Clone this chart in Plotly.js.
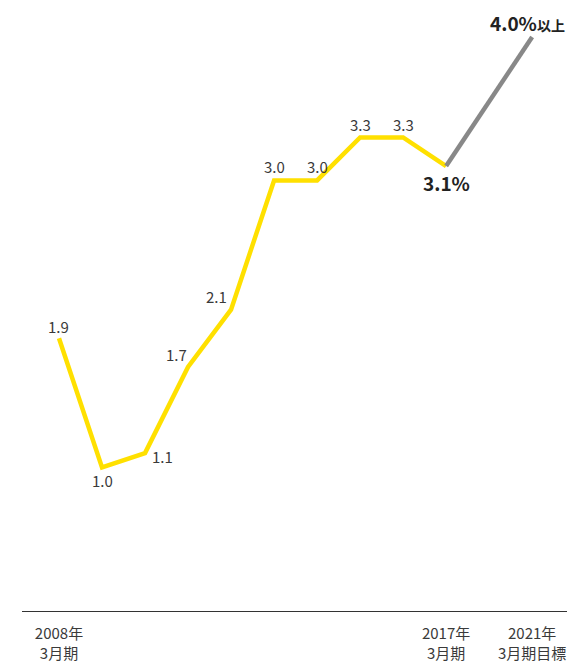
<!DOCTYPE html>
<html><head><meta charset="utf-8">
<script src="https://cdn.plot.ly/plotly-3.0.1.min.js"></script>
<style>body{margin:0;padding:0;background:#fff}#c{width:572px;height:662px}</style>
</head><body><div id="c"></div>
<script>
// Data
var actualX = [0,1,2,3,4,5,6,7,8,9]; // 2008..2017 (March FY)
var actualY = [1.9,1.0,1.1,1.7,2.1,3.0,3.0,3.3,3.3,3.1];
var targetX = [9,11];               // 2017 -> 2021 target
var targetY = [3.1,4.0];
var tickVals = [0,9,11];
var tickText = ["2008年<br>3月期","2017年<br>3月期","2021年<br>3月期目標"];
var labelText = ["1.9","1.0","1.1","1.7","2.1","3.0","3.0","3.3","3.3"];
var labelDX = [0,0,17,-12,-15,0,0,0,0];
var labelDY = [12,-13,-3,13,13,14,14,13,13];

var FONT = '"Noto Sans CJK JP", "Noto Sans", sans-serif';
var ann = [];
for (var i=0;i<labelText.length;i++){
  ann.push({x:actualX[i],y:actualY[i],xref:'x',yref:'y',text:labelText[i],showarrow:false,
    xshift:labelDX[i],yshift:labelDY[i],font:{family:FONT,size:15,color:'#3a3a3a'}});
}
ann.push({x:actualX[9],y:actualY[9],xref:'x',yref:'y',text:'<b>'+actualY[9].toFixed(1)+'%</b>',showarrow:false,
  xshift:0,yshift:-16,font:{family:FONT,size:19,color:'#222'}});
ann.push({x:targetX[1],y:targetY[1],xref:'x',yref:'y',text:'<b>'+targetY[1].toFixed(1)+'%<span style="font-size:14px">以上</span></b>',showarrow:false,
  xshift:-5,yshift:14,font:{family:FONT,size:19,color:'#222'}});

var data = [
  {x:actualX,y:actualY,type:'scatter',mode:'lines',line:{color:'#FFE000',width:4.5},hoverinfo:'none'},
  {x:targetX,y:targetY,type:'scatter',mode:'lines',line:{color:'#888888',width:4.5},hoverinfo:'none'}
];
var layout = {
  width:572,height:662,showlegend:false,
  margin:{l:22,r:5,t:20,b:51},
  paper_bgcolor:'#fff',plot_bgcolor:'#fff',
  xaxis:{range:[-0.86,11.81],showgrid:false,zeroline:false,showline:true,linecolor:'#333',linewidth:1,
    tickvals:tickVals,ticktext:tickText,ticks:'',ticklabelstandoff:9,tickfont:{family:FONT,size:15,color:'#3a3a3a'},fixedrange:true},
  yaxis:{range:[0,4.118],showgrid:false,zeroline:false,showline:false,showticklabels:false,ticks:'',fixedrange:true},
  annotations:ann
};
Plotly.newPlot('c',data,layout,{displayModeBar:false,staticPlot:true});
</script></body></html>
